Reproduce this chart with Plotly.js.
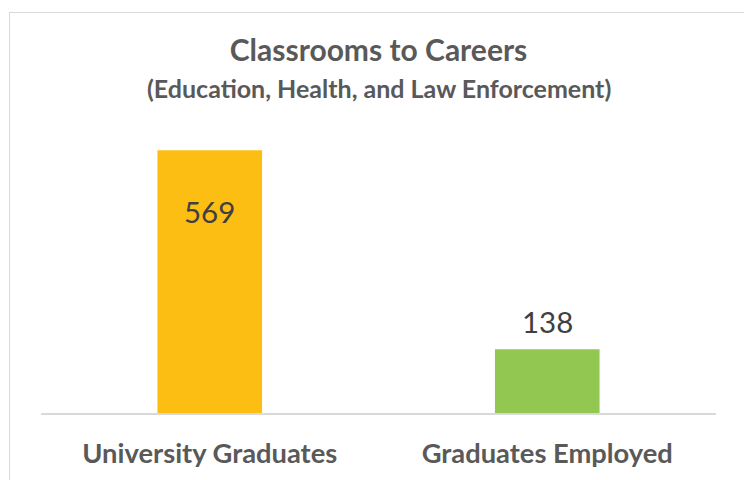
<!DOCTYPE html>
<html>
<head>
<meta charset="utf-8">
<script src="https://cdn.plot.ly/plotly-3.0.1.min.js"></script>
<style>
  html, body { margin: 0; padding: 0; background: #fff; overflow: hidden; }
  #wrap { position: relative; width: 744px; height: 480px; overflow: hidden; }
  #frame { position: absolute; left: 9px; top: 12px; width: 800px; height: 600px;
           border: 1.5px solid #d9d9d9; pointer-events: none; }
  #chart { position: absolute; left: 0; top: 0; width: 744px; height: 480px; }
</style>
</head>
<body>
<div id="wrap">
  <div id="chart"></div>
  <div id="frame"></div>
</div>
<script>
const categories = ["University Graduates", "Graduates Employed"];
const values = [569, 138];
const barColors = ["#FDBE14", "#92C852"];
const valueLabels = ["569", "138"];
const titleText = "Classrooms to Careers";
const subtitleText = "(Education, Health, and Law Enforcement)";

const FONT = "Lato, 'Open Sans', sans-serif";

const trace = {
  type: "bar",
  x: categories,
  y: values,
  marker: { color: barColors },
  hoverinfo: "x+y"
};

const labelShift = [-61, 28];
const annotations = categories.map((c, i) => ({
  x: c, y: values[i], xref: "x", yref: "y",
  text: valueLabels[i], showarrow: false,
  yanchor: "middle", yshift: labelShift[i],
  font: { family: FONT, size: 29.5, color: "#404040" }
}));
annotations.push({
  xref: "paper", yref: "paper", x: 0.5, y: 1.173,
  xanchor: "center", yanchor: "middle", showarrow: false,
  text: "<b>" + subtitleText + "</b>",
  font: { family: FONT, size: 25, color: "#595959" }
});

const layout = {
  width: 744, height: 480,
  margin: { l: 41, r: 28, t: 136, b: 67 },
  paper_bgcolor: "#ffffff", plot_bgcolor: "#ffffff",
  bargap: 0.69,
  showlegend: false,
  title: {
    text: "<b>" + titleText + "</b>",
    x: 0.5, xanchor: "center", xref: "paper",
    y: 1 - 50 / 480, yanchor: "middle", yref: "container",
    font: { family: FONT, size: 30, color: "#595959" }
  },
  xaxis: {
    showline: true, linecolor: "#d9d9d9", linewidth: 1.5,
    ticks: "outside", ticklen: 16, tickcolor: "rgba(0,0,0,0)",
    tickfont: { family: FONT, size: 27.3, color: "#595959", weight: "bold" },
    showgrid: false, zeroline: false, fixedrange: true
  },
  yaxis: {
    range: [0, 600], visible: false, showgrid: false, zeroline: false, fixedrange: true
  },
  annotations: annotations
};

Plotly.newPlot("chart", [trace], layout, { displayModeBar: false, staticPlot: true });
</script>
</body>
</html>
